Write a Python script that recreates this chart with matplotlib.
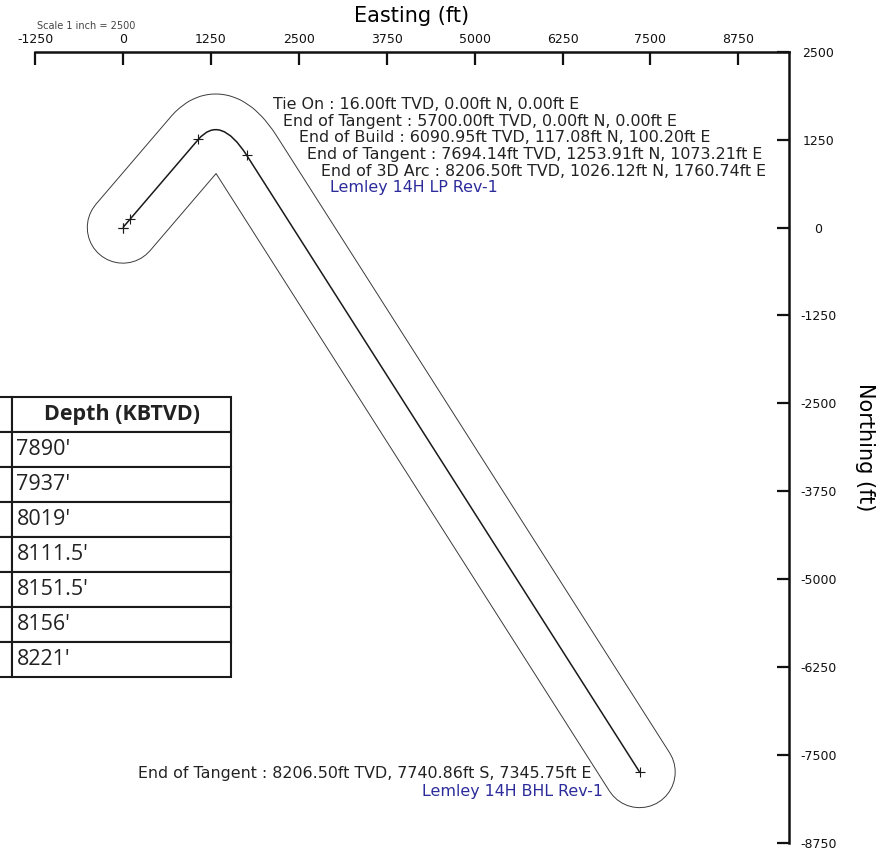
import matplotlib
matplotlib.use("Agg")
import matplotlib.pyplot as plt
from matplotlib.path import Path
from matplotlib.patches import PathPatch

# well plan stations (plan view)
stations = ["Tie On", "End of Tangent", "End of Build", "End of Tangent", "End of 3D Arc", "End of Tangent"]
tvd = [16.00, 5700.00, 6090.95, 7694.14, 8206.50, 8206.50]
north = [0.00, 0.00, 117.08, 1253.91, 1026.12, -7740.86]
east = [0.00, 0.00, 100.20, 1073.21, 1760.74, 7345.75]

# 3D arc control point
arc_ctrl_e, arc_ctrl_n = 1384.0, 1617.0
buffer_ft = 500

targets = ["Lemley 14H LP Rev-1", "Lemley 14H BHL Rev-1"]

# label anchors (easting, northing)
label_e = [2134, 2276, 2504, 2617, 2816, 215]
label_n = [1743, 1506, 1274, 1032, 795, -7768]
target_e = [2944, 6826]
target_n = [563, -8024]

ticks = [-1250, 0, 1250, 2500, 3750, 5000, 6250, 7500, 8750]
yticks = [2500, 1250, 0, -1250, -2500, -3750, -5000, -6250, -7500, -8750]

table_header = ["", "Depth (KBTVD)"]
depths = ["7890'", "7937'", "8019'", "8111.5'", "8151.5'", "8156'", "8221'"]

W, H = 883, 851
fig = plt.figure(figsize=(W / 100, H / 100), dpi=100)
ax = fig.add_axes([35 / W, 8 / H, 754 / W, 791.3 / H])
ax.set_xlim(-1250, 9470)
ax.set_ylim(-8750, 2500)

# path through stations, with the 3D arc as a quadratic curve
verts = [(east[0], north[0])]
codes = [Path.MOVETO]
for i in range(1, 4):
    verts.append((east[i], north[i]))
    codes.append(Path.LINETO)
verts += [(arc_ctrl_e, arc_ctrl_n), (east[4], north[4]), (east[5], north[5])]
codes += [Path.CURVE3, Path.CURVE3, Path.LINETO]
well = Path(verts, codes)

# buffer outline drawn as a wide stroke
p0 = ax.transData.transform((0, 0))
p1 = ax.transData.transform((1000, 0))
px_per_ft = (p1[0] - p0[0]) / 1000
wid = 2 * buffer_ft * px_per_ft * 72 / fig.dpi
ax.add_patch(PathPatch(well, facecolor="none", edgecolor="#3a3a3a", lw=wid + 1.4,
                       capstyle="round", joinstyle="round", zorder=1))
ax.add_patch(PathPatch(well, facecolor="none", edgecolor="white", lw=wid,
                       capstyle="round", joinstyle="round", zorder=2))
ax.add_patch(PathPatch(well, facecolor="none", edgecolor="#1a1a1a", lw=1.1, zorder=3))
ax.plot(east, north, "+", color="#1a1a1a", ms=7, mew=0.8, zorder=4)

fnt = "DejaVu Sans"
for i in range(len(stations)):
    ns = "N" if north[i] >= 0 else "S"
    txt = "%s : %.2fft TVD, %.2fft %s, %.2fft E" % (stations[i], tvd[i], abs(north[i]), ns, east[i])
    ax.text(label_e[i], label_n[i], txt, fontsize=11.4, family=fnt,
            color="#222222", va="center", ha="left", zorder=5)
ax.text(target_e[0], target_n[0], targets[0], fontsize=11.4, family=fnt,
        color="#2b2b9c", va="center", ha="left", zorder=5)
ax.text(target_e[1], target_n[1], targets[1], fontsize=11.4, family=fnt,
        color="#2b2b9c", va="center", ha="right", zorder=5)

# axes styling: only top and right spines
for s in ["left", "bottom"]:
    ax.spines[s].set_visible(False)
for s in ["top", "right"]:
    ax.spines[s].set_linewidth(1.8)
    ax.spines[s].set_color("#111111")
ax.xaxis.tick_top()
ax.yaxis.tick_right()
ax.set_xticks(ticks)
ax.set_xticklabels([str(t) for t in ticks])
ax.set_yticks(yticks)
ax.set_yticklabels([str(t) for t in yticks])
ax.tick_params(axis="x", direction="in", length=9, width=1.6, pad=4,
               labelsize=9, colors="#111111")
ax.tick_params(axis="y", direction="in", length=9, width=1.6, pad=21,
               labelsize=9, colors="#111111")
for lab in ax.get_yticklabels():
    lab.set_horizontalalignment("center")
ax.xaxis.set_label_position("top")
ax.set_xlabel("Easting (ft)", fontsize=15, family=fnt, labelpad=8)
ax.yaxis.set_label_position("right")
ax.set_ylabel("Northing (ft)", fontsize=15, family=fnt, rotation=270,
              labelpad=28)
fig.text(37 / W, 1 - 26 / H, "Scale 1 inch = 2500", fontsize=7, color="#444444",
         va="center", ha="left")

# depth table overlay, first column clipped by the figure edge
tax = fig.add_axes([-88 / W, (H - 677) / H, 319 / W, 280 / H])
tax.axis("off")
tbl = tax.table(cellText=[["", d] for d in depths], colLabels=table_header,
                colWidths=[100 / 319, 219 / 319], bbox=[0, 0, 1, 1])
tbl.auto_set_font_size(False)
for (r, c), cell in tbl.get_celld().items():
    cell.set_edgecolor("#1a1a1a")
    cell.set_linewidth(1.5)
    cell.PAD = 0.02
    t = cell.get_text()
    t.set_fontfamily("Open Sans")
    t.set_fontsize(15.5)
    t.set_color("#222222")
    if r == 0:
        t.set_fontweight("bold")
        t.set_horizontalalignment("center")
    else:
        t.set_horizontalalignment("left")
        cell._loc = "left"

fig.savefig("out.png", dpi=100, facecolor="white")
